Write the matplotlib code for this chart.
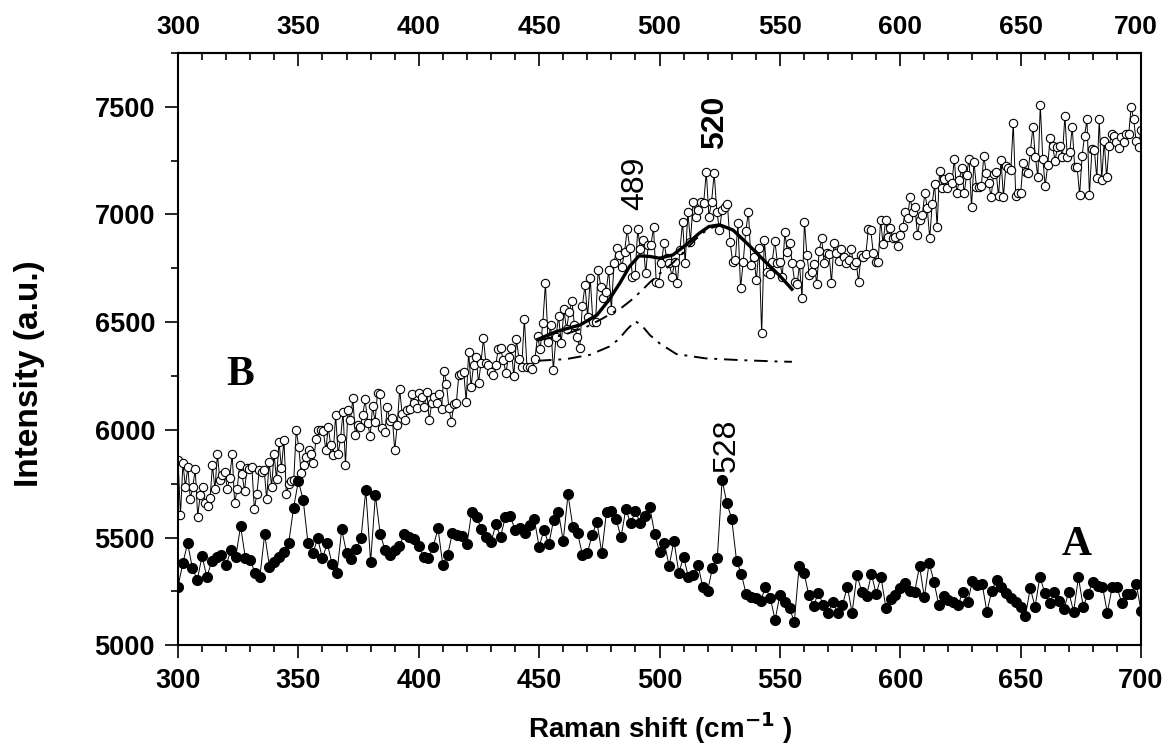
import matplotlib.pyplot as plt
import matplotlib.transforms as mtransforms
import numpy as np
from matplotlib.ticker import MultipleLocator

# spectrum A (filled circles), one point every 2 cm-1
a_shift = np.arange(300, 701, 2)
a_int = [
    5272, 5380, 5473, 5357, 5303, 5414, 5315, 5392, 5408, 5419,
    5372, 5442, 5411, 5553, 5403, 5395, 5337, 5318, 5515, 5365,
    5388, 5411, 5434, 5476, 5638, 5762, 5674, 5473, 5426, 5496,
    5403, 5473, 5377, 5334, 5538, 5429, 5398, 5445, 5496, 5720,
    5388, 5697, 5515, 5442, 5419, 5442, 5462, 5516, 5504, 5491,
    5460, 5411, 5403, 5457, 5542, 5372, 5419, 5522, 5512, 5507,
    5468, 5620, 5597, 5538, 5504, 5477, 5561, 5504, 5597, 5601,
    5535, 5542, 5519, 5558, 5584, 5457, 5535, 5468, 5581, 5620,
    5484, 5700, 5550, 5519, 5419, 5426, 5512, 5573, 5429, 5620,
    5623, 5584, 5501, 5631, 5566, 5623, 5566, 5600, 5640, 5516,
    5434, 5476, 5368, 5485, 5337, 5408, 5318, 5326, 5372, 5268,
    5253, 5360, 5403, 5767, 5659, 5586, 5392, 5329, 5237, 5225,
    5217, 5207, 5268, 5220, 5117, 5233, 5202, 5171, 5109, 5368,
    5337, 5233, 5182, 5244, 5186, 5148, 5202, 5148, 5186, 5272,
    5151, 5326, 5248, 5228, 5330, 5238, 5318, 5174, 5214, 5233,
    5264, 5290, 5253, 5248, 5368, 5222, 5383, 5295, 5186, 5228,
    5210, 5199, 5186, 5248, 5199, 5299, 5279, 5284, 5155, 5253,
    5303, 5268, 5241, 5217, 5202, 5179, 5137, 5264, 5179, 5318,
    5244, 5194, 5248, 5205, 5168, 5248, 5155, 5315, 5179, 5238,
    5295, 5276, 5272, 5151, 5268, 5268, 5197, 5238, 5238, 5284,
    5160,
]

# spectrum B (open circles), about one point per cm-1, read in three stretches
b1_int = [  # 300 - 433
    5860, 5604, 5844, 5736, 5829, 5677, 5736, 5816, 5597, 5697,
    5736, 5658, 5646, 5682, 5836, 5723, 5888, 5767, 5790, 5806,
    5725, 5778, 5888, 5658, 5723, 5836, 5795, 5717, 5821, 5818,
    5826, 5631, 5702, 5813, 5806, 5813, 5677, 5852, 5736, 5888,
    5770, 5945, 5821, 5953, 5702, 5748, 5764, 5767, 5999, 5922,
    5801, 5836, 5872, 5906, 5888, 5844, 5956, 5999, 5999, 5996,
    5906, 6011, 5929, 5883, 6069, 5888, 5960, 6084, 5836, 6092,
    6045, 6146, 5976, 6022, 6014, 6069, 6141, 6030, 5971, 6110,
    6038, 6172, 6166, 6007, 5991, 6107, 6042, 6053, 5906, 6022,
    6188, 6073, 6045, 6092, 6098, 6166, 6123, 6100, 6169, 6154,
    6104, 6177, 6045, 6123, 6154, 6123, 6166, 6095, 6275, 6213,
    6100, 6038, 6120, 6126, 6254, 6259, 6270, 6131, 6363, 6200,
    6301, 6340, 6219, 6309, 6425, 6309, 6301, 6270, 6254, 6301,
    6375,
]
b2_int = [  # 434 - 549
    6378, 6324, 6265, 6339, 6378, 6250, 6420, 6327, 6290, 6517,
    6290, 6290, 6281, 6327, 6435, 6374, 6497, 6680, 6409, 6487,
    6278, 6432, 6528, 6401, 6559, 6466, 6548, 6600, 6487, 6432,
    6378, 6575, 6672, 6525, 6703, 6502, 6502, 6742, 6665, 6610,
    6641, 6742, 6556, 6773, 6843, 6812, 6757, 6827, 6931, 6843,
    6711, 6719, 6931, 6838, 6881, 6727, 6858, 6858, 6940, 6688,
    6680, 6773, 6869, 6796, 6773, 6711, 6781, 6680, 6835, 6966,
    6773, 7013, 6874, 7059, 6990, 7021, 7059, 7052, 7199, 6990,
    7059, 7191, 7013, 6928, 7021, 7036, 7048, 6874, 6781, 6788,
    6959, 6657, 6781, 6925, 7013, 6765, 6804, 6696, 6843, 6448,
    6881, 6734, 6723, 6781, 6878, 6773,
]
b3_int = [  # 550 - 700
    6781, 6711, 6920, 6827, 6869, 6773, 6688, 6677, 6768, 6610,
    6966, 6811, 6719, 6734, 6770, 6677, 6832, 6889, 6776, 6822,
    6816, 6683, 6866, 6819, 6784, 6838, 6804, 6773, 6788, 6842,
    6765, 6781, 6688, 6811, 6804, 6816, 6931, 6928, 6822, 6781,
    6781, 6974, 6863, 6974, 6897, 6935, 6889, 6897, 6853, 6904,
    6943, 7013, 6986, 7082, 7013, 7033, 6904, 6974, 6997, 7101,
    7028, 6889, 7051, 7141, 6943, 7202, 7121, 7163, 7121, 7175,
    7144, 7259, 7098, 7160, 7214, 7098, 7183, 7260, 7033, 7245,
    7129, 7126, 7132, 7271, 7194, 7144, 7082, 7188, 7198, 7085,
    7253, 7082, 7225, 7214, 7206, 7426, 7085, 7098, 7098, 7240,
    7198, 7194, 7296, 7407, 7265, 7175, 7508, 7260, 7132, 7229,
    7353, 7318, 7250, 7315, 7318, 7268, 7457, 7265, 7291, 7407,
    7219, 7222, 7090, 7271, 7364, 7442, 7090, 7302, 7299, 7168,
    7442, 7160, 7342, 7172, 7318, 7373, 7364, 7338, 7307, 7358,
    7338, 7373, 7376, 7500, 7442, 7342, 7315, 7392,
]
b_shift = np.concatenate([np.linspace(300, 433, len(b1_int)),
                          np.linspace(434, 549, len(b2_int)),
                          np.linspace(550, 700, len(b3_int))])
b_int = b1_int + b2_int + b3_int

# fitted envelope and components on spectrum B
fit_x = [449.5, 457, 467, 474, 479, 483.5, 487.5, 491.5, 496, 500, 505.5,
         511, 516.5, 520.5, 525, 530.5, 537, 544, 550, 555]
fit_y = [6420, 6456, 6487, 6533, 6603, 6681, 6758, 6808, 6805, 6797, 6812,
         6859, 6913, 6944, 6952, 6928, 6859, 6780, 6715, 6653]
comp489_x = [449.5, 461, 471, 479, 483, 486.5, 490, 493, 496, 500, 507,
             519, 533, 550, 555]
comp489_y = [6321, 6328, 6348, 6386, 6420, 6466, 6505, 6480, 6440, 6402,
             6352, 6332, 6324, 6317, 6316]
comp520_x = [449.5, 460, 470, 476, 480, 484, 488, 492, 496, 500, 505, 510,
             515, 520, 525, 530, 537, 544, 550, 555]
comp520_y = [6415, 6440, 6480, 6515, 6540, 6565, 6600, 6640, 6685, 6725,
             6770, 6825, 6885, 6932, 6950, 6928, 6859, 6780, 6715, 6653]

top_labels = [300, 350, 400, 450, 500, 550, 600, 650, 700]

plt.rcParams['font.family'] = 'Liberation Sans'

fig = plt.figure(figsize=(11.68, 7.56), dpi=100)
ax = fig.add_axes([0.1524, 0.1466, 0.8245, 0.7833])

ax.plot(b_shift, b_int, color='black', lw=0.7, marker='o', ms=6.0,
        mfc='white', mec='black', mew=0.8, zorder=2)
ax.plot(comp489_x, comp489_y, color='black', lw=1.4,
        ls=(0, (7, 3.5, 1.5, 3.5)), zorder=3)
ax.plot(comp520_x, comp520_y, color='black', lw=1.4,
        ls=(0, (7, 3.5, 1.5, 3.5)), zorder=3)
ax.plot(fit_x, fit_y, color='black', lw=2.4, zorder=4)
ax.plot(a_shift, a_int, color='black', lw=0.7, marker='o', ms=7.0,
        mfc='black', mec='black', zorder=5)

ax.set_xlim(300, 700)
ax.set_ylim(5000, 7750)
ax.xaxis.set_major_locator(MultipleLocator(50))
ax.xaxis.set_minor_locator(MultipleLocator(10))
ax.yaxis.set_major_locator(MultipleLocator(500))
ax.yaxis.set_minor_locator(MultipleLocator(250))

ax.tick_params(axis='x', which='both', direction='out', top=False,
               labelsize=19.5, width=1.2, pad=7)
ax.tick_params(axis='y', which='both', direction='out', right=False,
               labelsize=19.5, width=1.2, pad=7)
ax.tick_params(which='major', length=9.5)
ax.tick_params(which='minor', length=5)
for lab in ax.get_xticklabels() + ax.get_yticklabels():
    lab.set_fontweight('bold')
for sp in ax.spines.values():
    sp.set_linewidth(1.5)

# top axis: inward ticks, labels written by hand below
top = ax.secondary_xaxis('top')
top.xaxis.set_major_locator(MultipleLocator(50))
top.xaxis.set_minor_locator(MultipleLocator(10))
top.tick_params(which='both', direction='in', width=1.2, labeltop=False)
top.tick_params(which='major', length=9.5)
top.tick_params(which='minor', length=5)
top.spines['top'].set_linewidth(1.5)

top_trans = mtransforms.blended_transform_factory(ax.transData, fig.transFigure)
for v in top_labels:
    tr = top_trans
    if v == top_labels[-1]:
        tr = top_trans + mtransforms.ScaledTranslation(-4 / 72, 0,
                                                       fig.dpi_scale_trans)
    ax.text(v, 1 - 27 / 756, str(v), transform=tr, ha='center', va='center',
            fontsize=19, fontweight='bold', clip_on=False)

ax.text(490, 7146, '489', rotation=90, ha='center', va='center', fontsize=23)
ax.text(523.2, 7430, '520', rotation=90, ha='center', va='center',
        fontsize=23, fontweight='bold')
ax.text(527.8, 5930, '528', rotation=90, ha='center', va='center', fontsize=23)
ax.text(325.7, 6255, 'B', ha='center', va='center', fontsize=30,
        fontweight='bold', family='Liberation Serif')
ax.text(673.4, 5465, 'A', ha='center', va='center', fontsize=30,
        fontweight='bold', family='Liberation Serif')

fig.text(30 / 1168, 1 - 374 / 756, 'Intensity (a.u.)', rotation=90,
         ha='center', va='center', fontsize=24, fontweight='bold')
fig.text(660 / 1168, 1 - 728 / 756, 'Raman shift (cm$^{\\mathbf{-1}}$ )',
         ha='center', va='center', fontsize=20, fontweight='bold')

fig.savefig('out.png', dpi=100)
